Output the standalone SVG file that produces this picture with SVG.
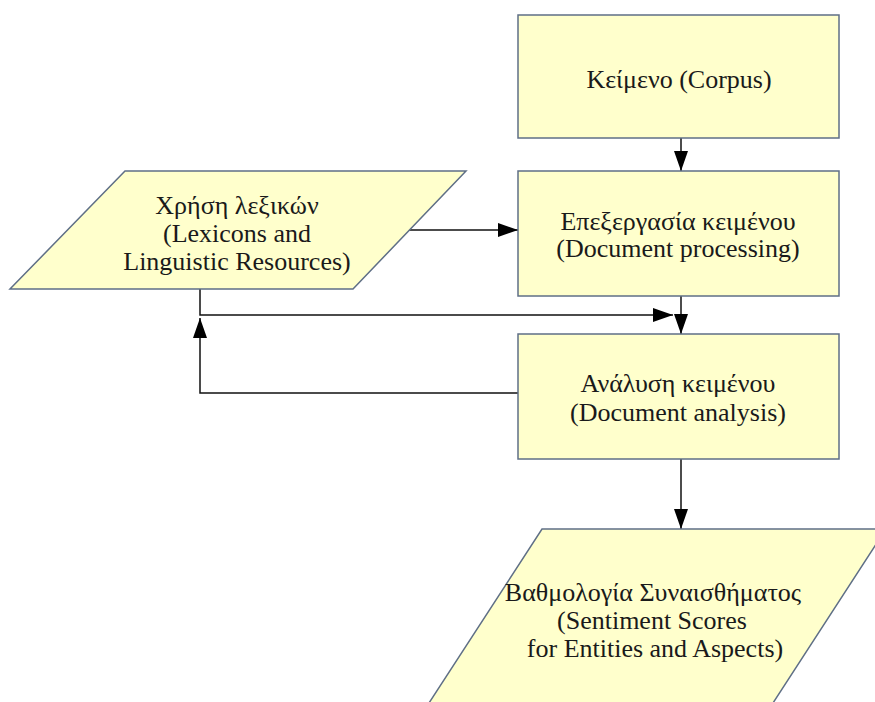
<svg xmlns="http://www.w3.org/2000/svg" width="875" height="702" viewBox="0 0 875 702">
<defs>
<style>
.node{fill:#ffffcc;stroke:#5f6f86;stroke-width:1.5}
.t{font-size:26px;fill:#1a1a1a;text-anchor:middle}
.c{fill:none;stroke:#111;stroke-width:1.5}
</style>
<marker id="ah" viewBox="0 0 20 14" refX="20" refY="7" markerWidth="20" markerHeight="14" markerUnits="userSpaceOnUse" orient="auto">
<path d="M0,0 L20,7 L0,14 Z" fill="#000"/>
</marker>
</defs>
<rect width="875" height="702" fill="#fff"/>
<g id="connectors">
<line class="c" x1="681" y1="138" x2="681" y2="171" marker-end="url(#ah)"/>
<line class="c" x1="408" y1="230" x2="518" y2="230" marker-end="url(#ah)"/>
<line class="c" x1="681" y1="296" x2="681" y2="334" marker-end="url(#ah)"/>
<polyline class="c" points="200,289 200,315 673,315" marker-end="url(#ah)"/>
<polyline class="c" points="518,393 200,393 200,318" marker-end="url(#ah)"/>
<line class="c" x1="681" y1="459" x2="681" y2="529" marker-end="url(#ah)"/>
</g>
<g font-family="'Liberation Serif', 'Times New Roman', serif">
<g id="corpus">
<rect class="node" x="518" y="15" width="321" height="123"/>
<text class="t" x="679" y="88">Κείμενο (Corpus)</text>
</g>
<g id="processing">
<rect class="node" x="518" y="171" width="321" height="125"/>
<text class="t" x="678" y="230">Επεξεργασία κειμένου</text>
<text class="t" x="678" y="257">(Document processing)</text>
</g>
<g id="lexicons">
<polygon class="node" points="125,171 466,171 353,289 10,289"/>
<text class="t" x="237" y="214">Χρήση λεξικών</text>
<text class="t" x="237" y="242">(Lexicons and</text>
<text class="t" x="237" y="270">Linguistic Resources)</text>
</g>
<g id="analysis">
<rect class="node" x="518" y="334" width="321" height="125"/>
<text class="t" x="678" y="392">Ανάλυση κειμένου</text>
<text class="t" x="678" y="421">(Document analysis)</text>
</g>
<g id="scores">
<polygon class="node" points="542,529 886,529 773,703 429,703"/>
<text class="t" x="653" y="601">Βαθμολογία Συναισθήματος</text>
<text class="t" x="652" y="629">(Sentiment Scores</text>
<text class="t" x="655" y="657">for Entities and Aspects)</text>
</g>
</g>
</svg>
